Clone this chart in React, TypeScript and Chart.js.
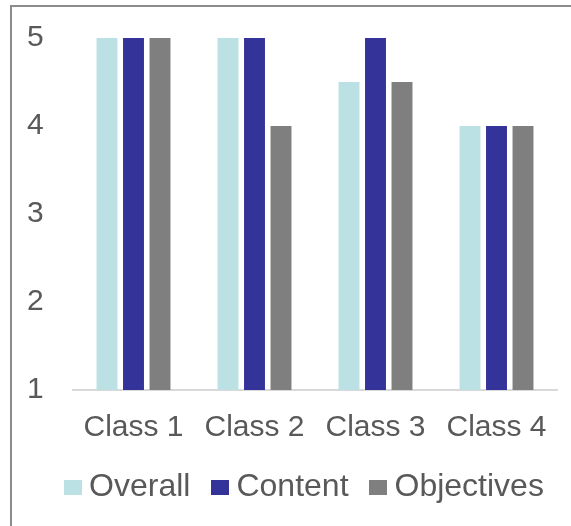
import React, { useEffect, useRef } from "react";
import { Chart, registerables } from "chart.js";

Chart.register(...registerables);

const categories = ["Class 1", "Class 2", "Class 3", "Class 4"];
const seriesNames = ["Overall", "Content", "Objectives"];
const overall = [5, 5, 4.5, 4];
const content = [5, 5, 5, 4];
const objectives = [5, 4, 4.5, 4];
const yTicks = [1, 2, 3, 4, 5];
const colors = ["#BCE1E4", "#333399", "#7F7F7F"];

const FONT = "'Liberation Sans', Arial, sans-serif";
const TEXT = "#595959";
const CANVAS_W = 616;

function swatch(color: string) {
  const c = document.createElement("canvas");
  c.width = 18;
  c.height = 15;
  const g = c.getContext("2d")!;
  g.fillStyle = color;
  g.fillRect(0, 0, 18, 15);
  return c;
}

const blankAxis = (width: number, position: string, weight: number) => ({
  position,
  weight,
  display: true,
  grid: { display: false, drawTicks: false },
  border: { display: false },
  ticks: { display: false },
  afterFit: (s: any) => {
    s.width = width;
  },
});

export default function App() {
  const ref = useRef<HTMLCanvasElement>(null);
  useEffect(() => {
    if (!ref.current) return;
    const swatches = colors.map(swatch);
    const values = [overall, content, objectives];
    const chart = new Chart(ref.current, {
      type: "bar",
      data: {
        labels: categories,
        datasets: seriesNames.map((name, i) => ({
          label: name,
          data: values[i],
          backgroundColor: colors[i],
          borderWidth: 0,
          categoryPercentage: 0.657,
          barPercentage: 0.79,
          yAxisID: "y",
        })),
      },
      options: {
        animation: false,
        responsive: false,
        devicePixelRatio: 1,
        layout: { padding: { left: 0, right: 0, top: 38, bottom: 13 } },
        plugins: {
          tooltip: { enabled: false },
          legend: {
            position: "bottom",
            align: "center",
            labels: {
              usePointStyle: true,
              pointStyleWidth: 1,
              padding: 29,
              color: TEXT,
              font: { family: FONT, size: 32 },
              generateLabels: (ch: any) => {
                const items = (Chart.defaults.plugins.legend.labels as any).generateLabels(ch);
                return items.map((it: any, i: number) => ({
                  ...it,
                  pointStyle: swatches[i],
                  lineWidth: 0,
                  fontColor: TEXT,
                }));
              },
            },
          },
        },
        scales: {
          x: {
            grid: { display: false, drawTicks: false },
            border: { display: true, color: "#D9D9D9", width: 2 },
            ticks: { color: TEXT, font: { family: FONT, size: 30 }, padding: 20, maxRotation: 0, autoSkip: false },
            afterFit: (s: any) => {
              s.height = 52;
            },
          },
          y: {
            min: 1,
            max: 5,
            weight: 0,
            grid: { display: false, drawTicks: false },
            border: { display: false },
            afterBuildTicks: (s: any) => {
              s.ticks = yTicks.map((v) => ({ value: v }));
            },
            ticks: { color: TEXT, font: { family: FONT, size: 30 }, padding: 0, crossAlign: "far", stepSize: 1 },
            afterFit: (s: any) => {
              s.width = 46;
            },
          },
          yLeftPad: blankAxis(27, "left", 1),
          yRight: blankAxis(CANVAS_W - 557, "right", 0),
        },
      } as any,
    });
    return () => chart.destroy();
  }, []);

  return (
    <div style={{ position: "fixed", left: 0, top: 0, width: 571, height: 526, overflow: "hidden", background: "#fff" }}>
      <div
        style={{
          position: "absolute",
          left: 10,
          top: 5,
          width: 700,
          height: 700,
          borderTop: "2px solid #8C8C8C",
          borderLeft: "2px solid #8C8C8C",
        }}
      />
      <canvas
        ref={ref}
        width={CANVAS_W}
        height={526}
        style={{ position: "absolute", left: 0, top: 0, width: CANVAS_W, height: 526 }}
      />
    </div>
  );
}
